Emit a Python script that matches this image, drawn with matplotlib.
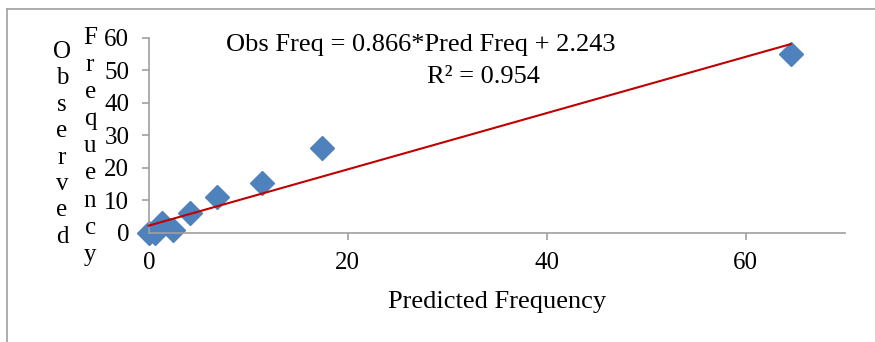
import numpy as np
import matplotlib
matplotlib.use("Agg")
import matplotlib.pyplot as plt
from matplotlib.lines import Line2D

plt.rcParams['font.family'] = 'Liberation Serif'
plt.rcParams.update({'font.size': 19})

# Data -----------------------------------------
pred_freq = [0.0, 0.6, 1.3, 2.4, 4.1, 6.9, 11.4, 17.4, 64.5]
obs_freq = [0.0, 0.0, 3.0, 0.8, 6.0, 11.1, 15.4, 26.2, 55.1]
slope = 0.866
intercept = 2.243
r2 = 0.954
xticks = [0, 20, 40, 60]
yticks = [0, 10, 20, 30, 40, 50, 60]
# ----------------------------------------------

fig = plt.figure(figsize=[8.75, 3.42], dpi=100)
ax = fig.add_axes([0.170, 0.319, 0.796, 0.570])

ax.plot(pred_freq, obs_freq, "D", color="#4F81BD", markersize=12, zorder=2, clip_on=False)

xfit = np.array([min(pred_freq), max(pred_freq)])
ax.plot(xfit, slope*xfit + intercept, color="#C00000", lw=1.5, zorder=3, clip_on=False)

ax.set_xlim(0, 70)
ax.set_ylim(0, 60)
ax.set_xticks(xticks)
ax.set_yticks(yticks)
for s in ["top", "right"]:
    ax.spines[s].set_visible(False)
for s in ["left", "bottom"]:
    ax.spines[s].set_color("#A0A0A0")
    ax.spines[s].set_linewidth(1.2)
ax.tick_params(colors="#A0A0A0", labelcolor="black", length=5, width=1.2, labelsize=18)
ax.tick_params(axis="x", pad=9)
ax.tick_params(axis="y", pad=9)

ax.set_xlabel("Predicted Frequency", fontsize=19, labelpad=12)

# stacked letters for the y label
fig.text(0.071, 0.578, "\n".join("Observed"), ha="center", va="center", fontsize=18, linespacing=1.26)
fig.text(0.103, 0.572, "\n".join("Frequency"), ha="center", va="center", fontsize=18, linespacing=1.30)

fig.text(0.258, 0.868, "Obs Freq = %.3f*Pred Freq + %.3f" % (slope, intercept),
         ha="left", va="center", fontsize=19)
fig.text(0.488, 0.775, "R² = %.3f" % r2, ha="left", va="center", fontsize=19)

# outer frame lines (top and left)
fig.add_artist(Line2D([0.008, 1.0], [0.974, 0.974], color="#A0A0A0", lw=1.2, transform=fig.transFigure))
fig.add_artist(Line2D([0.008, 0.008], [0.0, 0.974], color="#A0A0A0", lw=1.2, transform=fig.transFigure))

plt.savefig("out.png", dpi=100)
